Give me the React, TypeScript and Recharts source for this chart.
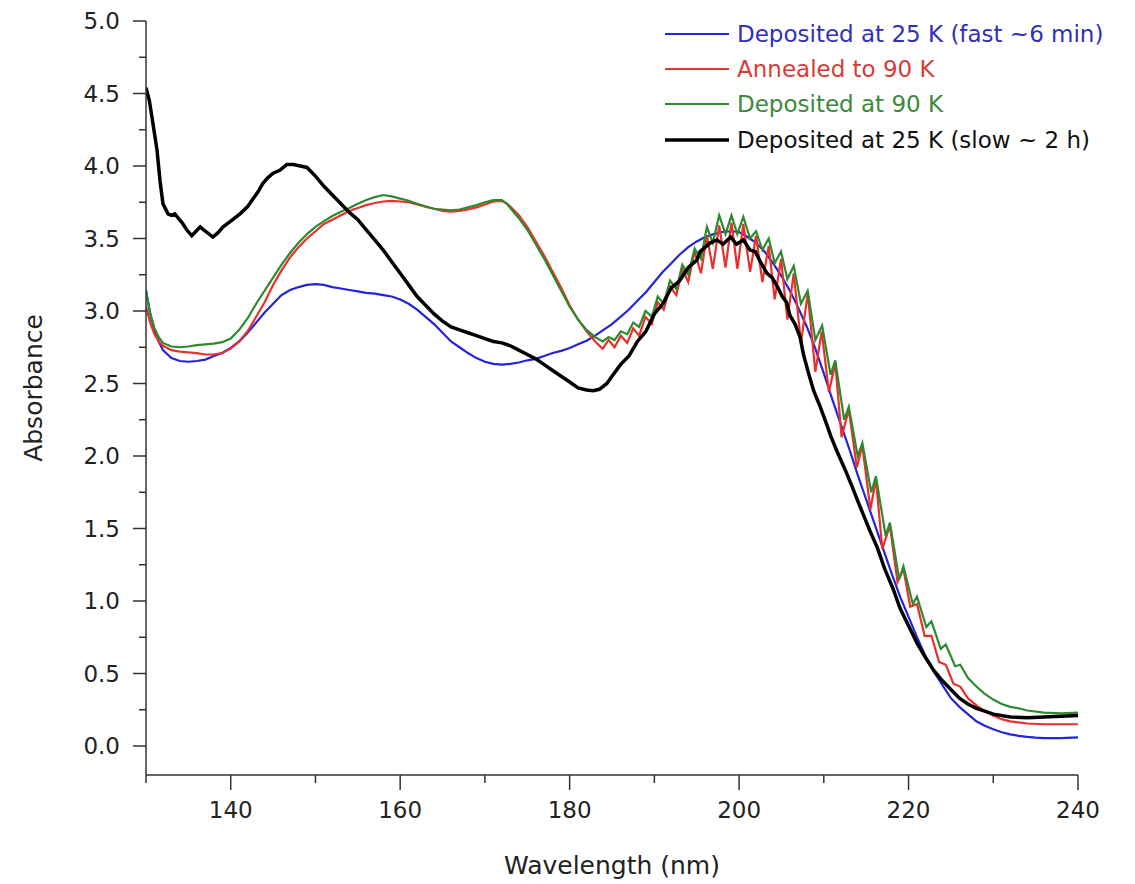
import { Label, Line, LineChart, XAxis, YAxis } from "recharts";

// Deposited at 25 K (fast ~6 min)
const blueNm = [
  130, 130.5, 131, 131.5, 132, 133, 134, 135, 136, 137, 138, 139, 140, 141, 142, 143, 144, 145, 146,
  147, 148, 149, 150, 151, 152, 153, 154, 155, 156, 157, 158, 159, 160, 161, 162, 163, 164, 165, 166,
  167, 168, 169, 170, 171, 172, 173, 174, 175, 176, 177, 178, 179, 180, 181, 182, 183, 184, 185, 186,
  187, 188, 189, 190, 191, 192, 193, 194, 195, 196, 197, 198, 199, 200, 201, 202, 203, 204, 205, 206,
  207, 208, 209, 210, 211, 212, 213, 214, 215, 216, 217, 218, 219, 220, 221, 222, 223, 224, 225, 226,
  227, 228, 229, 230, 231, 232, 233, 234, 235, 236, 238, 240,
];
const blueAbs = [
  3.14, 2.98, 2.87, 2.79, 2.73, 2.675, 2.655, 2.65, 2.655, 2.665, 2.69, 2.71, 2.745, 2.79, 2.85, 2.92,
  2.99, 3.05, 3.11, 3.145, 3.165, 3.18, 3.185, 3.18, 3.165, 3.155, 3.145, 3.135, 3.125, 3.12, 3.11,
  3.1, 3.08, 3.05, 3.01, 2.96, 2.91, 2.85, 2.79, 2.75, 2.71, 2.675, 2.65, 2.635, 2.63, 2.635, 2.645,
  2.66, 2.67, 2.69, 2.71, 2.725, 2.745, 2.77, 2.795, 2.83, 2.87, 2.91, 2.96, 3.01, 3.07, 3.13, 3.2,
  3.27, 3.33, 3.39, 3.44, 3.48, 3.51, 3.53, 3.545, 3.55, 3.545, 3.51, 3.47, 3.41, 3.33, 3.24, 3.14,
  3.02, 2.89, 2.74, 2.57, 2.39, 2.22, 2.05, 1.87, 1.7, 1.53, 1.36, 1.19, 1.03, 0.89, 0.75, 0.62, 0.51,
  0.42, 0.33, 0.27, 0.22, 0.17, 0.14, 0.115, 0.095, 0.08, 0.07, 0.063, 0.058, 0.055, 0.055, 0.06,
];

// Annealed to 90 K
const redNm = [
  130, 130.5, 131, 131.5, 132, 133, 134, 135, 136, 137, 138, 139, 140, 141, 142, 143, 144, 145, 146,
  147, 148, 149, 150, 151, 152, 153, 154, 155, 156, 157, 158, 159, 160, 161, 162, 163, 164, 165, 166,
  167, 168, 169, 170, 171, 172, 172.6, 173, 174, 175, 176, 177, 178, 179, 180, 181, 182, 183, 183.9,
  184.6, 185.3, 186.05, 186.8, 187.5, 188.2, 188.95, 189.7, 190.4, 191.1, 191.85, 192.6, 193.3, 194,
  194.75, 195.5, 196.2, 196.9, 197.65, 198.4, 199.1, 199.8, 200.5, 201.3, 202, 202.75, 203.5, 204.2,
  204.95, 205.7, 206.45, 207.3, 208.1, 209, 209.75, 210.6, 211.35, 212.1, 212.95, 213.9, 214.55, 215.5,
  216.15, 216.9, 217.8, 218.7, 219.4, 220.2, 221, 221.9, 222.7, 223.6, 224.4, 225.3, 226.1, 227, 228,
  229, 230, 231, 232, 234, 236, 238, 240,
];
const redAbs = [
  3.03, 2.92, 2.84, 2.79, 2.76, 2.73, 2.72, 2.715, 2.71, 2.7, 2.7, 2.71, 2.74, 2.79, 2.86, 2.96, 3.06,
  3.18, 3.28, 3.37, 3.44, 3.5, 3.55, 3.6, 3.63, 3.66, 3.69, 3.71, 3.73, 3.745, 3.755, 3.76, 3.755, 3.75,
  3.735, 3.72, 3.705, 3.69, 3.685, 3.69, 3.7, 3.715, 3.735, 3.755, 3.76, 3.74, 3.72, 3.66, 3.58, 3.48,
  3.38, 3.27, 3.16, 3.04, 2.94, 2.86, 2.79, 2.74, 2.8, 2.75, 2.83, 2.78, 2.88, 2.83, 2.96, 2.91, 3.06,
  3.01, 3.17, 3.11, 3.29, 3.2, 3.41, 3.26, 3.52, 3.29, 3.59, 3.3, 3.61, 3.29, 3.6, 3.27, 3.52, 3.2,
  3.45, 3.08, 3.36, 2.94, 3.26, 2.78, 3.12, 2.58, 2.86, 2.44, 2.64, 2.13, 2.32, 1.92, 2.07, 1.63, 1.84,
  1.36, 1.52, 1.13, 1.22, 0.96, 0.98, 0.76, 0.76, 0.58, 0.56, 0.43, 0.41, 0.33, 0.28, 0.24, 0.21, 0.185,
  0.17, 0.155, 0.15, 0.15, 0.15,
];

// Deposited at 90 K
const greenNm = [
  130, 130.5, 131, 131.5, 132, 133, 134, 135, 136, 137, 138, 139, 140, 141, 142, 143, 144, 145, 146,
  147, 148, 149, 150, 151, 152, 153, 154, 155, 156, 157, 158, 159, 160, 161, 162, 163, 164, 165, 166,
  167, 168, 169, 170, 171, 172, 172.6, 173, 174, 175, 176, 177, 178, 179, 180, 181, 182, 183, 183.9,
  184.6, 185.3, 186.05, 186.8, 187.5, 188.2, 188.95, 189.7, 190.4, 191.1, 191.85, 192.6, 193.3, 194,
  194.75, 195.5, 196.2, 196.9, 197.65, 198.4, 199.1, 199.8, 200.5, 201.3, 202, 202.75, 203.5, 204.2,
  204.95, 205.7, 206.45, 207.3, 208.1, 209, 209.8, 210.8, 211.35, 212.4, 212.95, 214, 214.55, 215.6,
  216.15, 217.3, 217.8, 218.9, 219.4, 220.5, 221, 222.1, 222.7, 223.8, 224.4, 225.5, 226.1, 227, 228,
  229, 230, 231, 232, 233, 234, 236, 238, 240,
];
const greenAbs = [
  3.14, 2.98, 2.88, 2.82, 2.78, 2.755, 2.75, 2.755, 2.765, 2.77, 2.775, 2.785, 2.81, 2.87, 2.95, 3.05,
  3.14, 3.23, 3.32, 3.4, 3.47, 3.53, 3.58, 3.62, 3.655, 3.685, 3.71, 3.74, 3.765, 3.785, 3.8, 3.79,
  3.775, 3.76, 3.74, 3.72, 3.705, 3.7, 3.695, 3.7, 3.715, 3.73, 3.75, 3.765, 3.765, 3.74, 3.71, 3.64,
  3.56, 3.46, 3.36, 3.25, 3.14, 3.03, 2.94, 2.87, 2.82, 2.79, 2.82, 2.8, 2.86, 2.84, 2.92, 2.89, 3.0,
  2.96, 3.1, 3.05, 3.21, 3.15, 3.32, 3.25, 3.43, 3.36, 3.58, 3.47, 3.66, 3.53, 3.66, 3.53, 3.65, 3.5,
  3.55, 3.42, 3.5, 3.33, 3.41, 3.22, 3.31, 3.05, 3.14, 2.8, 2.9, 2.56, 2.66, 2.25, 2.34, 2.0, 2.09,
  1.75, 1.86, 1.45, 1.54, 1.15, 1.24, 0.98, 1.03, 0.82, 0.86, 0.67, 0.7, 0.55, 0.56, 0.47, 0.41, 0.36,
  0.32, 0.29, 0.27, 0.26, 0.245, 0.23, 0.225, 0.23,
];

// Deposited at 25 K (slow ~ 2 h)
const blackNm = [
  130, 130.4, 130.8, 131.3, 131.65, 132, 132.6, 133, 133.4, 133.8, 134.25, 134.8, 135.4, 135.9, 136.4,
  137, 137.9, 138.5, 139.1, 140, 141.1, 142, 142.6, 143.2, 143.8, 144.4, 145, 145.8, 146.6, 147.4,
  148.2, 149, 150, 151, 152, 153, 154, 155, 156, 157, 158, 159, 160, 161, 162, 163, 164, 165, 166, 167,
  168, 169, 170, 171, 172, 173, 174, 175, 176, 177, 178, 179, 180, 181, 182, 182.8, 183.5, 184.4, 185,
  186, 187, 188, 189, 190, 191, 192, 193, 194, 195, 195.4, 196.6, 197.4, 198.1, 199, 199.7, 200.5,
  201.3, 201.9, 202.5, 203.3, 203.9, 204.5, 205.1, 205.6, 206, 206.6, 207.2, 207.6, 208.2, 208.8,
  209.5, 210.2, 210.8, 211.5, 212.1, 212.7, 213.4, 214, 214.7, 215.4, 216.3, 217.2, 218.2, 219, 220,
  221, 222, 223, 224, 225, 226, 227, 228, 229, 230, 232, 234, 236, 238, 240,
];
const blackAbs = [
  4.54, 4.45, 4.3, 4.11, 3.9, 3.74, 3.67, 3.66, 3.67, 3.64, 3.61, 3.56, 3.52, 3.55, 3.58, 3.55, 3.51,
  3.54, 3.58, 3.62, 3.67, 3.72, 3.77, 3.82, 3.88, 3.92, 3.95, 3.97, 4.01, 4.01, 4.0, 3.99, 3.93, 3.86,
  3.8, 3.74, 3.68, 3.63, 3.56, 3.49, 3.42, 3.34, 3.26, 3.18, 3.1, 3.04, 2.98, 2.93, 2.89, 2.87, 2.85,
  2.83, 2.81, 2.79, 2.78, 2.76, 2.73, 2.7, 2.67, 2.63, 2.59, 2.55, 2.51, 2.47, 2.455, 2.45, 2.46, 2.5,
  2.55, 2.63, 2.69, 2.79, 2.86, 2.98, 3.05, 3.16, 3.21, 3.3, 3.35, 3.41, 3.47, 3.49, 3.46, 3.51, 3.46,
  3.49, 3.42, 3.41, 3.34, 3.26, 3.23, 3.17, 3.1, 3.06, 2.97, 2.91, 2.82, 2.7, 2.57, 2.45, 2.35, 2.24,
  2.14, 2.04, 1.96, 1.88, 1.78, 1.69, 1.59, 1.49, 1.37, 1.22, 1.08, 0.95, 0.83, 0.71, 0.61, 0.52, 0.45,
  0.39, 0.33, 0.29, 0.26, 0.24, 0.22, 0.2, 0.195, 0.2, 0.205, 0.21,
];

const xTicks = [130, 140, 150, 160, 170, 180, 190, 200, 210, 220, 230, 240];
const yTicks = [
  0, 0.25, 0.5, 0.75, 1, 1.25, 1.5, 1.75, 2, 2.25, 2.5, 2.75, 3, 3.25, 3.5, 3.75, 4, 4.25, 4.5, 4.75, 5,
];

const FONT = '"DejaVu Sans", sans-serif';
const AXIS = "#333";
const TEXT = "#222";
const X_TICK = 15;
const X_GAP = 12;
const Y_TICK = 13;
const Y_GAP = 13;

const series = [
  { name: "Deposited at 25 K (fast ~6 min)", color: "#2424d8", text: "#3030b8", width: 2.2, nm: blueNm, abs: blueAbs },
  { name: "Annealed to 90 K", color: "#e8302c", text: "#d83a36", width: 2.2, nm: redNm, abs: redAbs },
  { name: "Deposited at 90 K", color: "#2e8a2e", text: "#3a8a3a", width: 2.2, nm: greenNm, abs: greenAbs },
  { name: "Deposited at 25 K (slow ~ 2 h)", color: "#000000", text: "#111111", width: 3.5, nm: blackNm, abs: blackAbs },
];

const toPoints = (nm: number[], abs: number[]) => nm.map((x, i) => ({ x, y: abs[i] }));

function XTick({ x, y, payload }: any) {
  const v = payload.value as number;
  const major = v % 20 === 0;
  const axisY = y - X_TICK - X_GAP;
  return (
    <g>
      <line x1={x} x2={x} y1={axisY} y2={axisY + (major ? X_TICK : 8)} stroke={AXIS} strokeWidth={1.5} />
      {major && (
        <text x={x} y={y} dy="0.71em" textAnchor="middle" fontFamily={FONT} fontSize={23} fill={TEXT}>
          {v}
        </text>
      )}
    </g>
  );
}

function YTick({ x, y, payload }: any) {
  const v = payload.value as number;
  const major = Math.abs(v * 2 - Math.round(v * 2)) < 1e-6;
  const axisX = x + Y_TICK + Y_GAP;
  return (
    <g>
      <line x1={axisX - (major ? Y_TICK : 7)} x2={axisX} y1={y} y2={y} stroke={AXIS} strokeWidth={1.5} />
      {major && (
        <text x={x} y={y} dy="0.36em" textAnchor="end" fontFamily={FONT} fontSize={23} fill={TEXT}>
          {v.toFixed(1)}
        </text>
      )}
    </g>
  );
}

export default function App() {
  return (
    <div style={{ position: "absolute", left: 0, top: 0, width: 1135, height: 884, background: "#fff" }}>
      <LineChart width={1135} height={884} margin={{ top: 21, right: 57, bottom: 9, left: 86 }}>
        <XAxis
          type="number"
          dataKey="x"
          domain={[130, 240]}
          ticks={xTicks}
          interval={0}
          allowDataOverflow
          height={100}
          tickSize={X_TICK}
          tickMargin={X_GAP}
          tickLine={false}
          tick={<XTick />}
          axisLine={{ stroke: AXIS, strokeWidth: 1.5 }}
        >
          <Label
            content={() => (
              <text x={612} y={874} textAnchor="middle" fontFamily={FONT} fontSize={25} fill={TEXT}>
                Wavelength (nm)
              </text>
            )}
          />
        </XAxis>
        <YAxis
          type="number"
          domain={[-0.2, 5]}
          ticks={yTicks}
          interval={0}
          allowDataOverflow
          width={60}
          tickSize={Y_TICK}
          tickMargin={Y_GAP}
          tickLine={false}
          tick={<YTick />}
          axisLine={{ stroke: AXIS, strokeWidth: 1.5 }}
        >
          <Label
            content={() => (
              <text
                x={42}
                y={388}
                transform="rotate(-90 42 388)"
                textAnchor="middle"
                fontFamily={FONT}
                fontSize={25}
                fill={TEXT}
              >
                Absorbance
              </text>
            )}
          />
        </YAxis>
        {series.map((s) => (
          <Line
            key={s.name}
            data={toPoints(s.nm, s.abs)}
            dataKey="y"
            type="linear"
            stroke={s.color}
            strokeWidth={s.width}
            dot={false}
            activeDot={false}
            isAnimationActive={false}
          />
        ))}
      </LineChart>
      <div style={{ position: "absolute", left: 665, top: 16, fontFamily: FONT, fontSize: 23 }}>
        {series.map((s) => (
          <div key={s.name} style={{ display: "flex", alignItems: "center", height: 35.3 }}>
            <svg width={64} height={10} style={{ marginRight: 8 }}>
              <line x1={0} x2={64} y1={5} y2={5} stroke={s.color} strokeWidth={s.width} />
            </svg>
            <span style={{ color: s.text, whiteSpace: "nowrap" }}>{s.name}</span>
          </div>
        ))}
      </div>
    </div>
  );
}
